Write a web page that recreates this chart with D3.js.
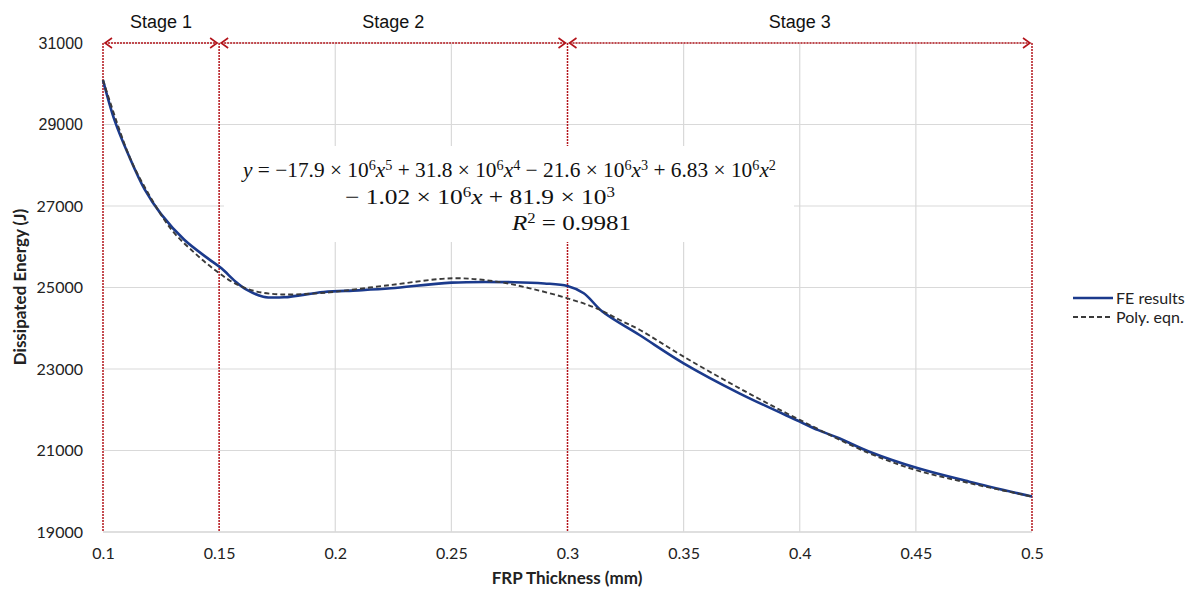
<!DOCTYPE html>
<html>
<head>
<meta charset="utf-8">
<script src="https://cdn.jsdelivr.net/npm/d3@7"></script>
<style>
  html, body { margin: 0; padding: 0; background: #fff; }
  svg { display: block; }
</style>
</head>
<body>
<svg id="chart" width="1199" height="594"></svg>
<script>
// ---------------- DATA ----------------
const xTicks = [0.1, 0.15, 0.2, 0.25, 0.3, 0.35, 0.4, 0.45, 0.5];
const xTickLabels = ["0.1", "0.15", "0.2", "0.25", "0.3", "0.35", "0.4", "0.45", "0.5"];
const yTicks = [19000, 21000, 23000, 25000, 27000, 29000, 31000];

const stageBounds = [0.1, 0.15, 0.3, 0.5];
const stageLabels = ["Stage 1", "Stage 2", "Stage 3"];

const feX = [0.1, 0.105, 0.111, 0.118, 0.125, 0.135, 0.145, 0.151, 0.157, 0.162, 0.169, 0.178, 0.195, 0.21, 0.224, 0.25, 0.277, 0.29, 0.3, 0.307, 0.315, 0.331, 0.35, 0.374, 0.4, 0.408, 0.417, 0.43, 0.451, 0.473, 0.5];
const feY = [30090, 29100, 28250, 27400, 26800, 26170, 25720, 25470, 25150, 24940, 24775, 24760, 24890, 24930, 24980, 25120, 25130, 25100, 25037, 24860, 24410, 23834, 23140, 22404, 21710, 21500, 21300, 20970, 20562, 20235, 19869];

const polyX = [0.1, 0.106, 0.112, 0.1195, 0.1296, 0.1396, 0.1482, 0.1568, 0.1662, 0.177, 0.19, 0.1977, 0.2236, 0.2508, 0.2695, 0.2838, 0.3, 0.3125, 0.3225, 0.3312, 0.35, 0.3743, 0.4, 0.43, 0.45, 0.473, 0.5];
const polyY = [30090, 29050, 28130, 27310, 26411, 25840, 25430, 25100, 24900, 24830, 24850, 24882, 25060, 25226, 25144, 24980, 24735, 24489, 24202, 23957, 23303, 22519, 21750, 20930, 20520, 20200, 19869];

const seriesNames = ["FE results", "Poly. eqn."];
const xTitle = "FRP Thickness (mm)";
const yTitle = "Dissipated Energy (J)";

// ---------------- CHART ----------------
const svg = d3.select("#chart");
const x = d3.scaleLinear().domain([0.1, 0.5]).range([103, 1032]);
const y = d3.scaleLinear().domain([19000, 31000]).range([532, 43]);

const RED = "#b3141b";
const GRID = "#d9d9d9";
const BLUE = "#1b3a8c";
const DASH = "#3a3a3a";

// gridlines
svg.append("g").selectAll("line.hg").data(yTicks).join("line")
  .attr("x1", x(0.1)).attr("x2", x(0.5))
  .attr("y1", d => y(d)).attr("y2", d => y(d))
  .attr("stroke", d => d === 19000 ? "#bfbfbf" : GRID).attr("stroke-width", 1.2);
svg.append("g").selectAll("line.vg").data(xTicks.filter(d => !stageBounds.includes(d))).join("line")
  .attr("x1", d => x(d)).attr("x2", d => x(d))
  .attr("y1", y(31000)).attr("y2", y(19000))
  .attr("stroke", GRID).attr("stroke-width", 1.2);

// stage boundaries (red dotted)
svg.append("g").selectAll("line.sb").data(stageBounds).join("line")
  .attr("x1", d => x(d)).attr("x2", d => x(d))
  .attr("y1", y(31000)).attr("y2", y(19000))
  .attr("stroke", RED).attr("stroke-width", 1.5).attr("stroke-dasharray", "2,1");

// white box behind the equation
svg.append("rect").attr("x", 224).attr("y", 146).attr("width", 570).attr("height", 96).attr("fill", "#fff");

// stage arrows
const stages = stageLabels.map((s, i) => ({ label: s, a: stageBounds[i], b: stageBounds[i + 1] }));
const ag = svg.append("g");
stages.forEach(st => {
  const x0 = x(st.a) + 2, x1 = x(st.b) - 2, yy = y(31000);
  ag.append("line").attr("x1", x0).attr("x2", x1).attr("y1", yy).attr("y2", yy)
    .attr("stroke", RED).attr("stroke-width", 1.5).attr("stroke-dasharray", "2,1");
  ag.append("path").attr("d", `M${x0 + 7},${yy - 5}L${x0},${yy}L${x0 + 7},${yy + 5}`)
    .attr("fill", "none").attr("stroke", RED).attr("stroke-width", 1.6);
  ag.append("path").attr("d", `M${x1 - 7},${yy - 5}L${x1},${yy}L${x1 - 7},${yy + 5}`)
    .attr("fill", "none").attr("stroke", RED).attr("stroke-width", 1.6);
  ag.append("text").attr("x", (x(st.a) + x(st.b)) / 2).attr("y", 28)
    .attr("text-anchor", "middle").attr("font-family", "Liberation Sans, Arial, sans-serif")
    .attr("font-size", 18).attr("fill", "#111").text(st.label);
});

// curves
const fe = feX.map((d, i) => [d, feY[i]]);
const poly = polyX.map((d, i) => [d, polyY[i]]);
const line = d3.line().x(d => x(d[0])).y(d => y(d[1])).curve(d3.curveCatmullRom.alpha(0.5));
svg.append("path").datum(fe).attr("d", line).attr("fill", "none")
  .attr("stroke", BLUE).attr("stroke-width", 2.6);
svg.append("path").datum(poly).attr("d", line).attr("fill", "none")
  .attr("stroke", DASH).attr("stroke-width", 1.9).attr("stroke-dasharray", "5,3");

// axes
const yAxis = svg.append("g").attr("transform", `translate(${x(0.1)},0)`)
  .call(d3.axisLeft(y).tickValues(yTicks).tickSize(0).tickPadding(20).tickFormat(d3.format("d")));
yAxis.select(".domain").remove();
yAxis.selectAll("text").attr("font-size", 16).attr("fill", "#222")
  .attr("font-family", d => d >= 29000 ? "Liberation Sans, Arial, sans-serif" : "Lato, sans-serif");

const xAxis = svg.append("g").attr("transform", `translate(0,${y(19000)})`)
  .call(d3.axisBottom(x).tickValues(xTicks).tickSize(0).tickPadding(16).tickFormat((d, i) => xTickLabels[i]));
xAxis.select(".domain").remove();
xAxis.selectAll("text").attr("font-size", 16).attr("fill", "#222").attr("font-family", "Lato, sans-serif");

// axis titles
svg.append("text").attr("x", 567).attr("y", 584).attr("text-anchor", "middle")
  .attr("font-family", "Lato, sans-serif").attr("font-weight", "bold").attr("font-size", 17)
  .attr("fill", "#222").text(xTitle);
svg.append("text").attr("transform", "translate(26,287) rotate(-90)").attr("text-anchor", "middle")
  .attr("font-family", "Lato, sans-serif").attr("font-weight", "bold").attr("font-size", 17)
  .attr("fill", "#222").text(yTitle);

// equation
const eq = svg.append("g").attr("font-family", "Liberation Serif, 'DejaVu Serif', serif")
  .attr("font-size", 21).attr("fill", "#111");
function eqLine(xp, yp, parts, len) {
  const t = eq.append("text").attr("x", xp).attr("y", yp)
    .attr("textLength", len).attr("lengthAdjust", "spacingAndGlyphs");
  parts.forEach(p => {
    const ts = t.append("tspan").text(p.t);
    if (p.i) ts.attr("font-style", "italic");
    if (p.s) ts.attr("baseline-shift", "super").attr("font-size", 14);
  });
}
eqLine(243, 177, [
  {t: "y", i: 1}, {t: " = −17.9 × 10"}, {t: "6", s: 1}, {t: "x", i: 1}, {t: "5", s: 1},
  {t: " + 31.8 × 10"}, {t: "6", s: 1}, {t: "x", i: 1}, {t: "4", s: 1},
  {t: " − 21.6 × 10"}, {t: "6", s: 1}, {t: "x", i: 1}, {t: "3", s: 1},
  {t: " + 6.83 × 10"}, {t: "6", s: 1}, {t: "x", i: 1}, {t: "2", s: 1}
], 533);
eqLine(345, 204, [
  {t: "− 1.02 × 10"}, {t: "6", s: 1}, {t: "x", i: 1}, {t: "  +  81.9 × 10"}, {t: "3", s: 1}
], 270);
eqLine(512, 230, [
  {t: "R", i: 1}, {t: "2", s: 1}, {t: " = 0.9981"}
], 119);

// legend
const lg = svg.append("g");
lg.append("line").attr("x1", 1073).attr("x2", 1113).attr("y1", 298).attr("y2", 298)
  .attr("stroke", BLUE).attr("stroke-width", 2.6);
lg.append("line").attr("x1", 1073).attr("x2", 1113).attr("y1", 317).attr("y2", 317)
  .attr("stroke", DASH).attr("stroke-width", 1.9).attr("stroke-dasharray", "5,3");
lg.selectAll("text").data(seriesNames).join("text")
  .attr("x", 1116).attr("y", (d, i) => 304 + i * 19)
  .attr("font-family", "Lato, sans-serif").attr("font-size", 16).attr("fill", "#222").text(d => d);
</script>
</body>
</html>
